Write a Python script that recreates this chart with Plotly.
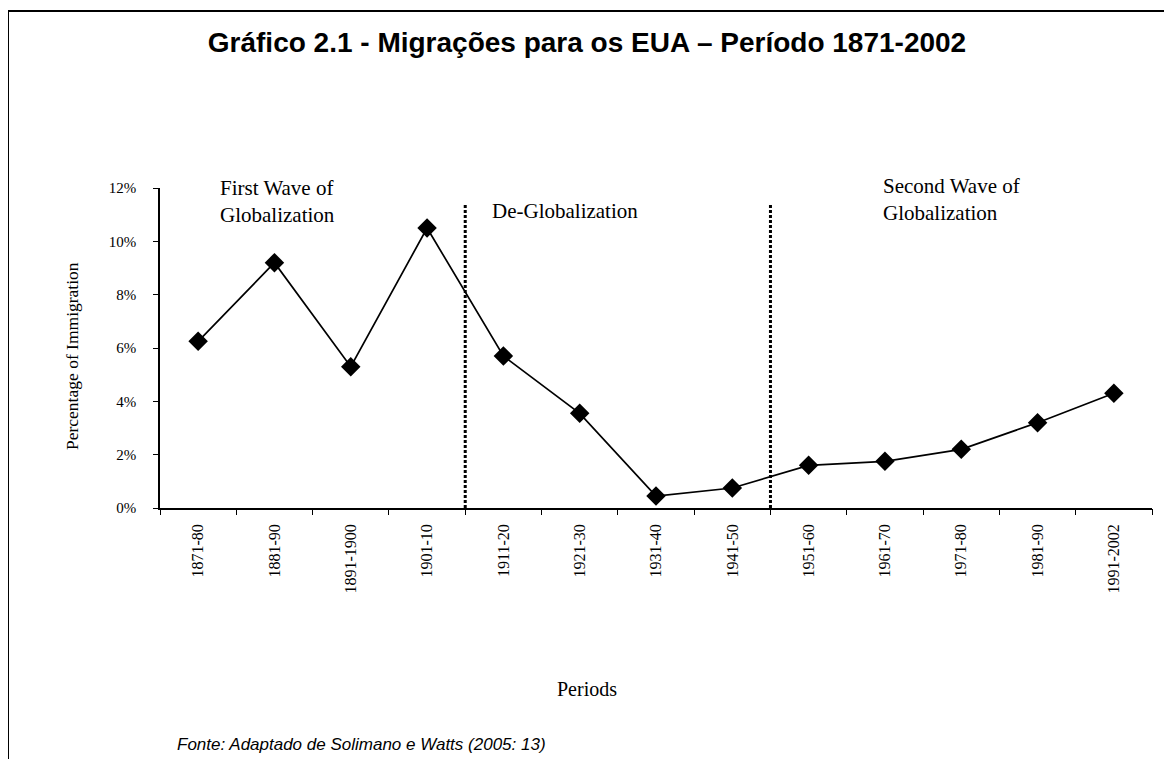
import plotly.graph_objects as go

periods = ["1871-80", "1881-90", "1891-1900", "1901-10", "1911-20", "1921-30",
           "1931-40", "1941-50", "1951-60", "1961-70", "1971-80", "1981-90", "1991-2002"]
immigration_pct = [6.25, 9.2, 5.3, 10.5, 5.7, 3.55, 0.45, 0.75, 1.6, 1.75, 2.2, 3.2, 4.3]
y_tick_vals = [0, 2, 4, 6, 8, 10, 12]
y_tick_text = ["0%", "2%", "4%", "6%", "8%", "10%", "12%"]

# era boundaries (between categories) and era labels
era_bounds = [3.5, 7.5]
era_line_top = 11.4
era_labels = ["First Wave of<br>Globalization", "De-Globalization", "Second Wave of<br>Globalization"]

title_text = "Gráfico 2.1 - Migrações para os EUA – Período 1871-2002"
source_text = "Fonte: Adaptado de Solimano e Watts (2005: 13)"
x_title = "Periods"
y_title = "Percentage of Immigration"

serif = "Liberation Serif, Times New Roman, serif"
sans = "Liberation Sans, Arial, sans-serif"

# page offset (body margin) is 8px; margins chosen so plot sits at page px 160..1152 x 188..508
W, H = 1172, 759
L, R, T, B = 152, 28, 180, 259
pw, ph = W - L - R, H - T - B
OFF = 8

def px_x(p):  # page pixel -> paper x
    return (p - OFF - L) / pw

def px_y(p):  # page pixel -> paper y
    return (H - B - (p - OFF)) / ph

fig = go.Figure()
fig.add_trace(go.Scatter(
    x=list(range(len(periods))), y=immigration_pct, mode="lines+markers",
    line=dict(color="black", width=1.7),
    marker=dict(symbol="diamond", size=15, color="black"),
    showlegend=False, cliponaxis=False,
))

shapes = []
for b in era_bounds:
    shapes.append(dict(type="line", xref="x", yref="y", x0=b, x1=b, y0=0, y1=era_line_top,
                       line=dict(color="black", width=3, dash="3px,2px")))
# frame (top and left edges)
shapes.append(dict(type="line", xref="paper", yref="paper", x0=px_x(8), x1=px_x(1185),
                   y0=px_y(11), y1=px_y(11), line=dict(color="black", width=2)))
shapes.append(dict(type="line", xref="paper", yref="paper", x0=px_x(8), x1=px_x(8),
                   y0=px_y(11), y1=px_y(775), line=dict(color="black", width=2)))

label_pos = [(218, 201), (490, 211), (881, 199.5)]
annotations = []
for txt, (lx, ly) in zip(era_labels, label_pos):
    annotations.append(dict(text=txt, x=px_x(lx), y=px_y(ly), xref="paper", yref="paper",
                            xanchor="left", yanchor="middle", align="left", showarrow=False,
                            font=dict(family=serif, size=21, color="black")))
annotations.append(dict(text=y_title, x=px_x(60), y=px_y(356),
                        xref="paper", yref="paper", textangle=-90, showarrow=False,
                        font=dict(family=serif, size=17.5, color="black")))
annotations.append(dict(text=x_title, x=px_x(587), y=px_y(702), xref="paper", yref="paper",
                        showarrow=False, font=dict(family=serif, size=20, color="black")))
annotations.append(dict(text="<i>" + source_text + "</i>", x=px_x(175), y=px_y(756),
                        xref="paper", yref="paper", xanchor="left", showarrow=False,
                        font=dict(family=sans, size=17, color="black")))

fig.update_layout(
    width=W, height=H,
    margin=dict(l=L, r=R, t=T, b=B),
    paper_bgcolor="white", plot_bgcolor="white",
    title=dict(text="<b>" + title_text + "</b>", x=(587 - OFF) / W, xanchor="center",
               y=1 - (42 - OFF) / H, yanchor="middle",
               font=dict(family=sans, size=28, color="black")),
    xaxis=dict(
        range=[-0.5, len(periods) - 0.5],
        tickmode="array", tickvals=list(range(len(periods))), ticktext=periods,
        tickangle=-90, ticks="",
        showline=True, linecolor="black", linewidth=1.5, showgrid=False, zeroline=False,
        tickfont=dict(family=serif, size=16, color="black"),
        ticklabelstandoff=8,
    ),
    xaxis2=dict(
        overlaying="x", side="bottom", anchor="y", range=[-0.5, len(periods) - 0.5],
        tickmode="array", tickvals=[i - 0.5 for i in range(len(periods) + 1)],
        ticks="outside", ticklen=6, tickcolor="black", tickwidth=1.2, showticklabels=False,
        showgrid=False, zeroline=False, showline=False,
    ),
    yaxis=dict(
        range=[0, 12], tickmode="array", tickvals=y_tick_vals, ticktext=y_tick_text,
        ticks="outside", ticklen=5, tickcolor="black", tickwidth=1.2,
        showline=True, linecolor="black", linewidth=1.5, showgrid=False, zeroline=False,
        tickfont=dict(family=serif, size=15, color="black"),
        ticklabelstandoff=14,
    ),
    shapes=shapes, annotations=annotations,
)
fig.add_trace(go.Scatter(x=[None], y=[None], xaxis="x2", showlegend=False, hoverinfo="skip"))

fig.write_html("out.html")
